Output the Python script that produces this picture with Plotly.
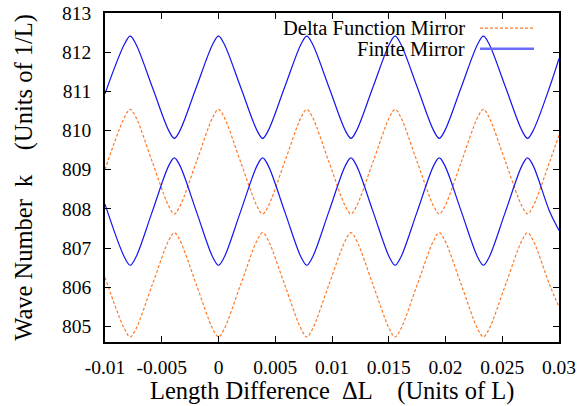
import plotly.graph_objects as go

# Shared x positions (Length Difference, units of L): edges, extrema and their neighbours, midpoints
dL = [-0.0100,
      -0.00826, -0.00778, -0.00730, -0.005835,
      -0.00437, -0.00389, -0.00341, -0.001945,
      -0.00048, 0.00000, 0.00048, 0.001945,
      0.00341, 0.00389, 0.00437, 0.005835,
      0.00730, 0.00778, 0.00826, 0.009725,
      0.01119, 0.01167, 0.01215, 0.013615,
      0.01508, 0.01556, 0.01604, 0.017505,
      0.01897, 0.01945, 0.01993, 0.021395,
      0.02286, 0.02334, 0.02382, 0.025285,
      0.02675, 0.02723, 0.02771, 0.029175,
      0.0300]

finite_upper = [810.94,
                812.22, 812.41, 812.22, 811.11,
                809.99, 809.80, 809.99, 811.11,
                812.22, 812.41, 812.22, 811.11,
                809.99, 809.80, 809.99, 811.11,
                812.22, 812.41, 812.22, 811.11,
                809.99, 809.80, 809.99, 811.11,
                812.22, 812.41, 812.22, 811.11,
                809.99, 809.80, 809.99, 811.11,
                812.22, 812.41, 812.22, 811.11,
                809.99, 809.80, 809.99, 811.11,
                811.84]

finite_lower = [808.12,
                806.75, 806.56, 806.75, 807.93,
                809.11, 809.30, 809.11, 807.93,
                806.75, 806.56, 806.75, 807.93,
                809.11, 809.30, 809.11, 807.93,
                806.75, 806.56, 806.75, 807.93,
                809.11, 809.30, 809.11, 807.93,
                806.75, 806.56, 806.75, 807.93,
                809.11, 809.30, 809.11, 807.93,
                806.75, 806.56, 806.75, 807.93,
                809.11, 809.30, 809.11, 807.93,
                807.45]

delta_upper = [809.00,
               810.35, 810.54, 810.35, 809.20,
               808.06, 807.87, 808.06, 809.20,
               810.35, 810.54, 810.35, 809.20,
               808.06, 807.87, 808.06, 809.20,
               810.35, 810.54, 810.35, 809.20,
               808.06, 807.87, 808.06, 809.20,
               810.35, 810.54, 810.35, 809.20,
               808.06, 807.87, 808.06, 809.20,
               810.35, 810.54, 810.35, 809.20,
               808.06, 807.87, 808.06, 809.20,
               809.88]

delta_lower = [806.25,
               804.92, 804.73, 804.92, 806.06,
               807.20, 807.39, 807.20, 806.06,
               804.92, 804.73, 804.92, 806.06,
               807.20, 807.39, 807.20, 806.06,
               804.92, 804.73, 804.92, 806.06,
               807.20, 807.39, 807.20, 806.06,
               804.92, 804.73, 804.92, 806.06,
               807.20, 807.39, 807.20, 806.06,
               804.92, 804.73, 804.92, 806.06,
               807.20, 807.39, 807.20, 806.06,
               805.50]

x_ticks = [-0.01, -0.005, 0, 0.005, 0.01, 0.015, 0.02, 0.025, 0.03]
x_tick_labels = ["-0.01", "-0.005", "0", "0.005", "0.01", "0.015", "0.02", "0.025", "0.03"]
y_ticks = [805, 806, 807, 808, 809, 810, 811, 812, 813]
y_tick_labels = [str(v) for v in y_ticks]

legend_labels = ["Delta Function Mirror", "Finite Mirror"]

BLUE = "#1414f0"
ORANGE = "#ff7a26"
FONT = "Liberation Serif"

fig = go.Figure()
for ys in (delta_upper, delta_lower):
    fig.add_trace(go.Scatter(x=dL, y=ys, mode="lines", showlegend=False,
                             line=dict(color=ORANGE, width=1.2, dash="3px,2px",
                                       shape="spline", smoothing=1.0)))
for ys in (finite_upper, finite_lower):
    fig.add_trace(go.Scatter(x=dL, y=ys, mode="lines", showlegend=False,
                             line=dict(color=BLUE, width=1.2,
                                       shape="spline", smoothing=1.0)))

axis_common = dict(showline=True, linecolor="black", linewidth=1.5, mirror="allticks",
                   ticks="inside", ticklen=6, tickwidth=1, tickcolor="black",
                   showgrid=False, zeroline=False, automargin=False,
                   tickfont=dict(family=FONT, size=19.5, color="black"))

fig.update_xaxes(range=[-0.01, 0.03], tickvals=x_ticks, ticktext=x_tick_labels,
                 ticklabelstandoff=7, **axis_common)
fig.update_yaxes(range=[804.6, 813], tickvals=y_ticks, ticktext=y_tick_labels,
                 ticklabelstandoff=8, **axis_common)

NB = "\u00a0"
fig.add_annotation(text="Length Difference" + NB * 2 + "ΔL" + NB * 4 + "(Units of L)",
                   xref="paper", yref="paper", x=0.5, y=-0.148,
                   xanchor="center", yanchor="middle", showarrow=False,
                   font=dict(family=FONT, size=24.5, color="black"))
fig.add_annotation(text="Wave Number" + NB * 2 + "k" + NB * 4 + "(Units of 1/L)",
                   xref="paper", yref="paper", x=-0.18, y=0.5, textangle=-90,
                   xanchor="center", yanchor="middle", showarrow=False,
                   font=dict(family=FONT, size=24.5, color="black"))

# manual gnuplot-style key (text right-justified, sample on the right)
key_rows = [0.954, 0.891]
key_styles = [dict(color=ORANGE, width=1.2, dash="3px,2px"),
              dict(color="#6a6aff", width=2.5)]
for label, yrow, st in zip(legend_labels, key_rows, key_styles):
    fig.add_annotation(text=label, xref="paper", yref="paper", x=0.797, y=yrow,
                       xanchor="right", yanchor="middle", showarrow=False,
                       font=dict(family=FONT, size=20.5, color="black"))
    fig.add_shape(type="line", xref="paper", yref="paper",
                  x0=0.826, x1=0.945, y0=yrow, y1=yrow, line=st)

fig.update_layout(width=582, height=406, autosize=False,
                  margin=dict(l=105, r=23, t=13, b=64, autoexpand=False),
                  paper_bgcolor="white", plot_bgcolor="white")

fig.write_html("out.html", config={"responsive": False, "displayModeBar": False},
               post_script="document.body.style.margin='0';document.body.style.overflow='hidden';")
